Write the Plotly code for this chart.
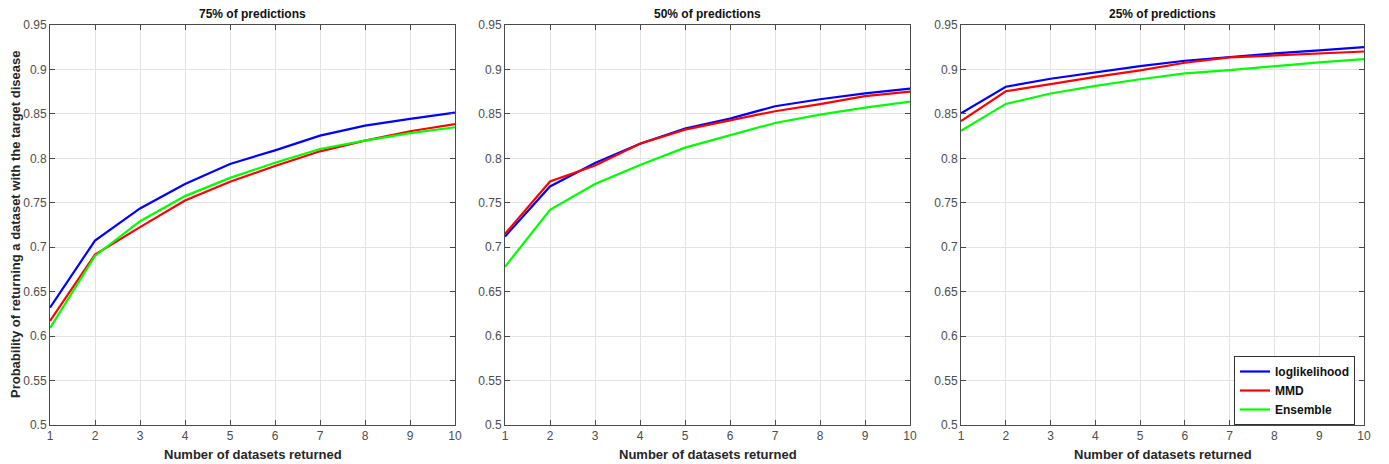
import plotly.graph_objects as go

# Number of datasets returned
n_returned = list(range(1, 11))

panel_titles = ["75% of predictions", "50% of predictions", "25% of predictions"]
series_names = ["loglikelihood", "MMD", "Ensemble"]
series_colors = ["#0000FF", "#FF0000", "#00FF00"]

# 75% of predictions
loglik_75 = [0.632, 0.7075, 0.7436, 0.771, 0.7936, 0.809, 0.8256, 0.8368, 0.8444, 0.8515]
mmd_75 = [0.617, 0.6917, 0.7226, 0.7526, 0.7737, 0.7914, 0.8079, 0.820, 0.8305, 0.8384]
ens_75 = [0.609, 0.6902, 0.7293, 0.7575, 0.778, 0.795, 0.8105, 0.820, 0.8283, 0.835]

# 50% of predictions
loglik_50 = [0.712, 0.7684, 0.7947, 0.8165, 0.8335, 0.8447, 0.8586, 0.8665, 0.873, 0.8785]
mmd_50 = [0.715, 0.774, 0.792, 0.8165, 0.8323, 0.843, 0.853, 0.861, 0.870, 0.875]
ens_50 = [0.678, 0.7421, 0.771, 0.7925, 0.812, 0.8256, 0.8398, 0.8492, 0.857, 0.8639]

# 25% of predictions
loglik_25 = [0.8507, 0.8806, 0.8895, 0.897, 0.9038, 0.9098, 0.914, 0.918, 0.9215, 0.925]
mmd_25 = [0.842, 0.8755, 0.8835, 0.8917, 0.899, 0.9075, 0.9135, 0.9157, 0.918, 0.9202]
ens_25 = [0.8311, 0.8612, 0.8729, 0.8815, 0.889, 0.8955, 0.8992, 0.9038, 0.908, 0.9117]

y_tickvals = [0.5, 0.55, 0.6, 0.65, 0.7, 0.75, 0.8, 0.85, 0.9, 0.95]
y_ticktext = ["0.5", "0.55", "0.6", "0.65", "0.7", "0.75", "0.8", "0.85", "0.9", "0.95"]

x_title = "Number of datasets returned"
y_title = "Probability of returning a dataset with the target disease"

panels = [
    (loglik_75, mmd_75, ens_75),
    (loglik_50, mmd_50, ens_50),
    (loglik_25, mmd_25, ens_25),
]

W, H = 1389, 464
x_pix = [(50, 455), (505, 910), (961, 1364)]
y_top, y_bot = 25, 425
y_dom = [(H - y_bot) / H, (H - y_top) / H]

AXIS_COLOR = "#4a4a4a"
GRID_COLOR = "#e3e3e3"
FONT = "Arial, Liberation Sans, sans-serif"

fig = go.Figure()
annotations = []

for i, series in enumerate(panels):
    xa = "x" if i == 0 else f"x{i + 1}"
    ya = "y" if i == 0 else f"y{i + 1}"
    for name, color, vals in zip(series_names, series_colors, series):
        fig.add_trace(go.Scatter(
            x=n_returned, y=vals, mode="lines", name=name,
            line=dict(color=color, width=2.2),
            xaxis=xa, yaxis=ya, showlegend=(i == 2),
        ))

    axis_common = dict(
        showline=True, linecolor=AXIS_COLOR, linewidth=1, mirror="ticks",
        ticks="inside", ticklen=5, tickcolor=AXIS_COLOR,
        showgrid=True, gridcolor=GRID_COLOR, gridwidth=1, zeroline=False,
        automargin=False,
        tickfont=dict(family=FONT, size=12, color="#4d4d4d"),
    )
    x0, x1 = x_pix[i]
    fig.update_layout(**{
        ("xaxis" if i == 0 else f"xaxis{i + 1}"): dict(
            axis_common, domain=[x0 / W, x1 / W], range=[1, 10],
            tickvals=n_returned, anchor=ya,
        ),
        ("yaxis" if i == 0 else f"yaxis{i + 1}"): dict(
            axis_common, domain=list(y_dom), range=[0.5, 0.95],
            tickvals=y_tickvals, ticktext=y_ticktext, anchor=xa,
        ),
    })
    # panel title
    annotations.append(dict(
        text=f"<b>{panel_titles[i]}</b>", xref="paper", yref="paper",
        x=(x0 + x1) / 2 / W, y=(H - 14) / H, xanchor="center", yanchor="middle",
        showarrow=False, font=dict(family=FONT, size=12, color="#111111"),
    ))
    # x-axis title
    annotations.append(dict(
        text=f"<b>{x_title}</b>", xref="paper", yref="paper",
        x=(x0 + x1) / 2 / W, y=(H - 454) / H, xanchor="center", yanchor="middle",
        showarrow=False, font=dict(family=FONT, size=13, color="#262626"),
    ))

# y-axis title on the first panel
annotations.append(dict(
    text=f"<b>{y_title}</b>", xref="paper", yref="paper",
    x=15 / W, y=(H - 225) / H, xanchor="center", yanchor="middle", textangle=-90,
    showarrow=False, font=dict(family=FONT, size=13, color="#262626"),
))

fig.update_layout(
    width=W, height=H,
    margin=dict(l=0, r=0, t=0, b=0),
    paper_bgcolor="white", plot_bgcolor="white",
    annotations=annotations,
    font=dict(family=FONT),
    legend=dict(
        x=1355 / W, xanchor="right", y=(H - 356) / H, yanchor="top",
        bgcolor="white", bordercolor="#333333", borderwidth=1,
        font=dict(family=FONT, size=12, color="#111111", weight="bold"),
        tracegroupgap=0, itemwidth=30,
    ),
)

fig.write_html("out.html")
